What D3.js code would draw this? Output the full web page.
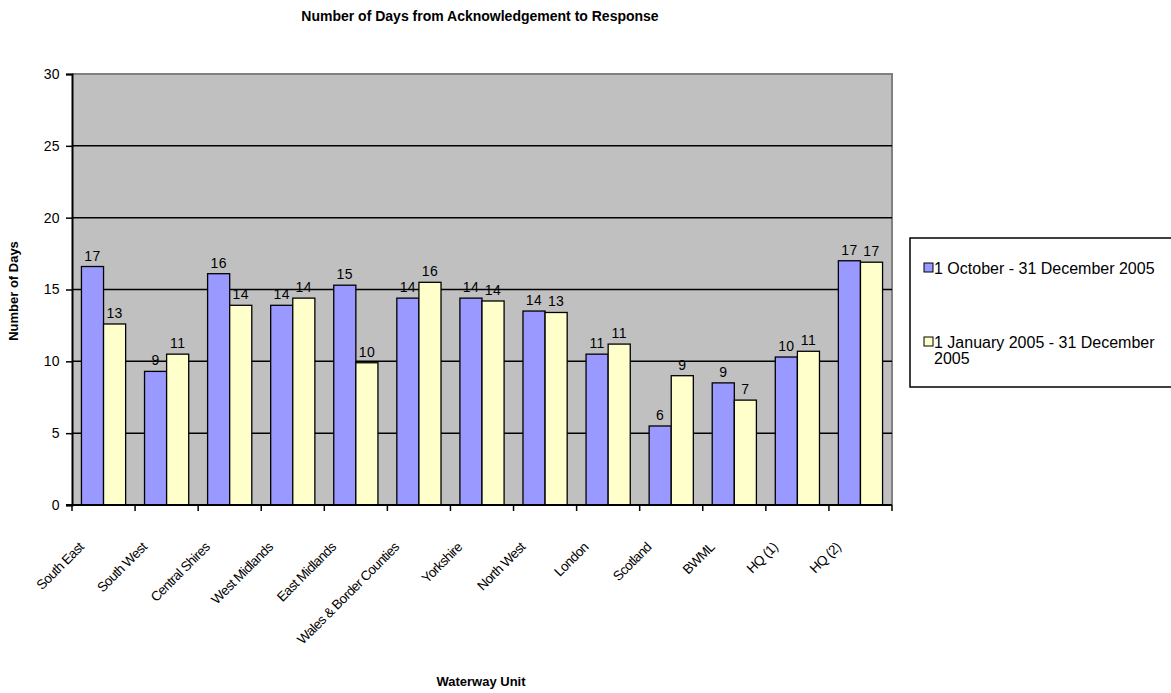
<!DOCTYPE html>
<html>
<head>
<meta charset="utf-8">
<script src="https://cdn.jsdelivr.net/npm/d3@7"></script>
<style>
  body { margin: 0; background: #fff; }
  text { font-family: "Liberation Sans", Arial, sans-serif; }
</style>
</head>
<body>
<div class="chart"></div>
<script>
let units = ["South East", "South West", "Central Shires", "West Midlands", "East Midlands",
  "Wales & Border Counties", "Yorkshire", "North West", "London", "Scotland", "BWML", "HQ (1)", "HQ (2)"];
let seriesNames = ["1 October - 31 December 2005", "1 January 2005 - 31 December 2005"];
let quarterDays = [16.6, 9.3, 16.1, 13.9, 15.3, 14.4, 14.4, 13.5, 10.5, 5.5, 8.5, 10.3, 17.0];
let yearDays = [12.6, 10.5, 13.9, 14.4, 9.9, 15.5, 14.2, 13.4, 11.2, 9.0, 7.3, 10.7, 16.9];
let yTicks = [0, 5, 10, 15, 20, 25, 30];
let colors = ["#9999ff", "#ffffcc"];

let width = 1171, height = 693;
let margin = {top: 74, left: 72, right: 279, bottom: 188};

const svg = d3.select(".chart")
  .append("svg")
  .attr("width", width)
  .attr("height", height);

let x = d3.scaleBand()
  .domain(units)
  .range([margin.left, width - margin.right])
  .paddingInner(0)
  .paddingOuter(0);

let x1 = d3.scaleBand()
  .domain([0, 1])
  .range([0, x.bandwidth()])
  .paddingOuter(0.75 * 0.57)
  .paddingInner(0);

let y = d3.scaleLinear()
  .domain([0, 30])
  .range([height - margin.bottom, margin.top]);

// plot background
svg.append("rect")
  .attr("x", margin.left)
  .attr("y", margin.top)
  .attr("width", width - margin.right - margin.left)
  .attr("height", y(0) - margin.top)
  .style("fill", "#c0c0c0");

// top/right border
svg.append("path")
  .attr("d", "M" + margin.left + "," + margin.top + "H" + (width - margin.right) + "V" + y(0))
  .style("fill", "none")
  .style("stroke", "#808080")
  .style("stroke-width", 2);

// grid lines
svg.append("g")
  .selectAll("line")
  .data(yTicks.filter(d => d > 0 && d < 30))
  .enter()
  .append("line")
  .attr("x1", margin.left)
  .attr("x2", width - margin.right)
  .attr("y1", d => y(d))
  .attr("y2", d => y(d))
  .style("stroke", "#000")
  .style("stroke-width", 1.5);

let data = units.map((u, i) => ({unit: u, vals: [quarterDays[i], yearDays[i]]}));

let groups = svg.append("g")
  .selectAll("g")
  .data(data)
  .enter()
  .append("g")
  .attr("transform", d => "translate(" + x(d.unit) + ",0)");

groups.selectAll("rect")
  .data(d => d.vals.map((v, k) => ({k: k, v: v})))
  .enter()
  .append("rect")
  .attr("x", d => x1(d.k))
  .attr("y", d => y(d.v))
  .attr("width", x1.bandwidth())
  .attr("height", d => y(0) - y(d.v))
  .style("fill", d => colors[d.k])
  .style("stroke", "#000")
  .style("stroke-width", 1.3);

groups.selectAll("text")
  .data(d => d.vals.map((v, k) => ({k: k, v: v})))
  .enter()
  .append("text")
  .attr("x", d => x1(d.k) + x1.bandwidth() / 2)
  .attr("y", d => y(d.v) - 6)
  .attr("text-anchor", "middle")
  .style("font-size", "14px")
  .style("letter-spacing", "0.4px")
  .text(d => Math.round(d.v));

// y axis
let yAxis = svg.append("g")
  .attr("transform", "translate(" + margin.left + ",0)")
  .call(d3.axisLeft(y).tickValues(yTicks).tickSize(6).tickPadding(6));
yAxis.select(".domain").style("stroke", "#000").style("stroke-width", 2);
yAxis.selectAll(".tick line").style("stroke", "#000").style("stroke-width", 1.5);
yAxis.selectAll(".tick text")
  .style("font-size", "14px")
  .style("letter-spacing", "0.4px")
  .style("font-family", "Liberation Sans, Arial, sans-serif")
  .attr("fill", "#000");

// x axis
let xAxis = svg.append("g")
  .attr("transform", "translate(0," + y(0) + ")");
xAxis.append("line")
  .attr("x1", margin.left - 6)
  .attr("x2", width - margin.right)
  .style("stroke", "#000")
  .style("stroke-width", 2);
xAxis.selectAll(".xt")
  .data(units.concat(["end"]))
  .enter()
  .append("line")
  .attr("class", "xt")
  .attr("x1", (d, i) => i < units.length ? x(d) : width - margin.right)
  .attr("x2", (d, i) => i < units.length ? x(d) : width - margin.right)
  .attr("y1", 0)
  .attr("y2", 6)
  .style("stroke", "#000")
  .style("stroke-width", 1.5);
xAxis.selectAll(".xl")
  .data(units)
  .enter()
  .append("text")
  .attr("class", "xl")
  .attr("text-anchor", "end")
  .attr("transform", d => "translate(" + (x(d) + x.bandwidth() / 2 - 19) + ",43) rotate(-45)")
  .style("font-size", "13.5px")
  .style("letter-spacing", "-0.6px")
  .text(d => d);

// titles
svg.append("text")
  .attr("x", 480)
  .attr("y", 21)
  .attr("text-anchor", "middle")
  .style("font-size", "14px")
  .style("font-weight", "bold")
  .text("Number of Days from Acknowledgement to Response");

svg.append("text")
  .attr("x", 481)
  .attr("y", 686)
  .attr("text-anchor", "middle")
  .style("font-size", "13px")
  .style("font-weight", "bold")
  .text("Waterway Unit");

svg.append("text")
  .attr("transform", "translate(18,291) rotate(-90)")
  .attr("text-anchor", "middle")
  .style("font-size", "13px")
  .style("font-weight", "bold")
  .text("Number of Days");

// legend
let leg = svg.append("g").attr("transform", "translate(910,238)");
leg.append("rect")
  .attr("x", 0).attr("y", 0)
  .attr("width", 275).attr("height", 149)
  .style("fill", "#fff")
  .style("stroke", "#000")
  .style("stroke-width", 1.5);
let legItems = leg.selectAll(".li")
  .data(seriesNames)
  .enter()
  .append("g")
  .attr("transform", (d, i) => "translate(14," + (30 + i * 74) + ")");
legItems.append("rect")
  .attr("x", 0).attr("y", -5)
  .attr("width", 9).attr("height", 9)
  .style("fill", (d, i) => colors[i])
  .style("stroke", "#000")
  .style("stroke-width", 1);
legItems.append("text")
  .attr("x", 10)
  .attr("y", 6)
  .style("font-size", "16px")
  .each(function (d) {
    let t = d3.select(this);
    if (d.length > 30) {
      let cut = d.lastIndexOf(" ");
      t.append("tspan").attr("x", 10).text(d.slice(0, cut));
      t.append("tspan").attr("x", 10).attr("dy", 16).text(d.slice(cut + 1));
    } else {
      t.text(d);
    }
  });
</script>
</body>
</html>
